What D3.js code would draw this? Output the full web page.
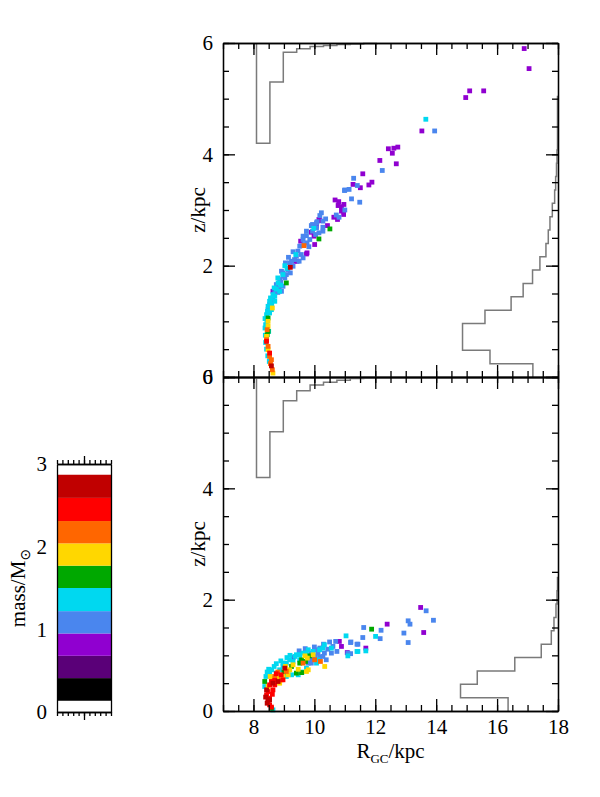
<!DOCTYPE html>
<html>
<head>
<meta charset="utf-8">
<script src="https://cdn.jsdelivr.net/npm/d3@7"></script>
<style>
body { margin: 0; background: #fff; }
text { font-family: "Liberation Serif", "DejaVu Serif", serif; fill: #000; }
</style>
</head>
<body>
<div id="chart"></div>
<script>
// colour bar: mass band edges (Msun), bottom to top, and their colours
var massEdges = [0.136, 0.41, 0.68, 0.95, 1.22, 1.50, 1.77, 2.04, 2.31, 2.59, 2.87];
var massColors = ["#000000", "#5a0078", "#9000d0", "#4a86ee", "#00d8f0",
                  "#00a800", "#ffd700", "#ff6600", "#ff0000", "#c00000"];

var xTicks = [8, 10, 12, 14, 16, 18];
var zTicks = [0, 2, 4, 6];
var massTicks = [0, 1, 2, 3];

// stars of the upper panel: [R_GC kpc, z kpc, mass Msun]
var topStars = [
  // purple
  [16.89,5.90,0.8],[17.05,5.54,0.8],[14.97,5.02,0.8],[15.10,5.14,0.8],[15.56,5.14,0.8],[13.53,4.42,0.8],
  [12.43,4.10,0.8],[12.61,4.11,0.8],[12.74,4.13,0.8],[12.56,4.02,0.8],[12.69,3.83,0.8],[12.15,3.89,0.8],
  [11.59,3.65,0.8],[11.27,3.46,0.8],[11.51,3.40,0.8],[11.79,3.45,0.8],[11.89,3.50,0.8],[10.68,3.18,0.8],
  [10.80,3.15,0.8],[10.78,3.08,0.8],[10.89,3.06,0.8],[10.97,3.10,0.8],[10.89,2.98,0.8],[10.96,2.92,0.8],
  [10.64,2.87,0.8],[10.76,2.83,0.8],[10.15,2.83,0.8],[10.07,2.71,0.8],[10.43,2.72,0.8],[10.01,2.38,0.8],
  [9.74,2.21,0.8],[9.55,2.44,0.8],[10.18,2.81,0.8],[9.90,2.60,0.8],[9.99,2.53,0.8],[9.76,2.23,0.8],
  [9.35,2.08,0.8],[9.43,2.08,0.8],[8.64,1.54,0.8],
  // blue
  [13.95,4.42,1.1],[12.23,3.71,1.1],[11.29,3.57,1.1],[11.41,3.44,1.1],[11.00,3.36,1.1],[11.14,3.37,1.1],
  [11.22,3.20,1.1],[11.49,3.14,1.1],[11.00,3.00,1.1],[10.72,2.91,1.1],[10.81,2.87,1.1],[10.23,2.95,1.1],
  [10.18,2.90,1.1],[10.99,3.35,1.1],[10.37,2.84,1.1],[10.28,2.80,1.1],[10.09,2.79,1.1],[9.94,2.74,1.1],
  [10.28,2.62,1.1],[10.15,2.59,1.1],[10.04,2.56,1.1],[9.94,2.62,1.1],[10.07,2.68,1.1],[10.01,2.71,1.1],
  [9.74,2.54,1.1],[9.85,2.47,1.1],[9.76,2.41,1.1],[9.63,2.47,1.1],[9.66,2.38,1.1],[9.82,2.34,1.1],
  [9.52,2.35,1.1],[9.46,2.26,1.1],[9.57,2.20,1.1],[9.41,2.17,1.1],[9.63,2.14,1.1],[9.50,2.08,1.1],
  [9.35,2.11,1.1],[9.19,2.05,1.1],[9.30,1.99,1.1],[9.13,1.93,1.1],[9.21,1.87,1.1],[9.08,1.84,1.1],
  [8.97,1.81,1.1],[8.92,1.90,1.1],[10.07,2.77,1.1],[9.90,2.72,1.1],[9.74,2.62,1.1],[9.63,2.53,1.1],
  [10.28,2.69,1.1],[9.25,2.08,1.1],[8.97,1.87,1.1],[9.03,1.78,1.1],[8.86,1.75,1.1],[8.75,1.66,1.1],
  [8.84,1.60,1.1],[8.97,1.63,1.1],[8.92,1.54,1.1],[8.70,1.51,1.1],[8.64,1.42,1.1],[8.59,1.36,1.1],
  [8.53,1.30,1.1],[8.48,1.21,1.1],[9.05,2.05,1.1],[8.90,1.70,1.1],[8.80,1.52,1.1],[9.30,2.25,1.1],
  [9.15,2.15,1.1],
  // cyan
  [13.66,4.63,1.35],[9.98,2.67,1.35],[9.39,2.20,1.35],[9.03,2.00,1.35],[8.97,1.84,1.35],[8.81,1.69,1.35],
  [8.75,1.58,1.35],[8.64,1.48,1.35],[8.53,1.36,1.35],[8.48,1.27,1.35],[8.53,1.15,1.35],[8.43,1.12,1.35],
  [8.40,0.94,1.35],[8.59,1.21,1.35],[8.70,1.36,1.35],[8.86,1.54,1.35],[8.38,1.05,1.35],[8.38,0.88,1.35],
  [8.39,0.75,1.35],[8.40,0.62,1.35],[8.43,0.50,1.35],[8.47,0.38,1.35],[8.52,0.28,1.35],[8.46,1.18,1.35],
  [8.44,1.00,1.35],[8.56,1.42,1.35],[8.68,1.60,1.35],[8.80,1.78,1.35],[9.10,1.95,1.35],[8.50,0.82,1.35],
  [8.60,1.30,1.35],[8.70,1.45,1.35],[8.90,1.65,1.35],
  // green
  [10.51,2.66,1.6],[10.15,2.48,1.6],[9.08,1.69,1.6],[8.48,1.06,1.6],[8.48,0.82,1.6],[8.45,0.76,1.6],
  // yellow
  [8.62,1.24,1.9],[8.48,1.00,1.9],[8.48,0.91,1.9],[8.43,0.73,1.9],[8.48,0.49,1.9],[8.64,0.07,1.9],
  // orange
  [9.66,2.36,2.2],[8.45,0.85,2.2],[8.43,0.67,2.2],[8.48,0.55,2.2],[8.53,0.37,2.2],[8.59,0.31,2.2],
  [8.62,0.13,2.2],[8.56,0.24,2.2],
  // red
  [8.43,0.64,2.45],[8.53,0.43,2.45],
  // dark red
  [9.21,1.97,2.7],[8.59,0.20,2.7]
];

// stars of the lower panel
var bottomStars = [
  // purple
  [13.49,1.86,0.8],[13.59,1.41,0.8],[12.39,1.56,0.8],[10.82,1.25,0.8],[10.89,1.16,0.8],[11.69,1.13,0.8],
  [11.08,1.05,0.8],[9.30,0.96,0.8],
  // blue
  [13.67,1.80,1.1],[13.91,1.63,1.1],[13.08,1.62,1.1],[13.14,1.56,1.1],[12.94,1.40,1.1],[13.08,1.23,1.1],
  [12.19,1.45,1.1],[11.62,1.50,1.1],[12.16,1.30,1.1],[11.59,1.32,1.1],[11.43,1.20,1.1],[11.20,1.24,1.1],
  [11.10,1.04,1.1],[11.19,1.03,1.1],[11.19,1.23,1.1],[11.40,1.20,1.1],[10.70,1.25,1.1],[10.50,1.24,1.1],
  [10.61,1.16,1.1],[10.74,1.07,1.1],[10.44,1.11,1.1],[10.56,1.04,1.1],[10.33,1.04,1.1],[10.39,0.92,1.1],
  [10.18,1.13,1.1],[10.12,1.04,1.1],[10.17,0.97,1.1],[10.28,0.98,1.1],[10.07,1.10,1.1],[10.01,0.99,1.1],
  [9.90,1.04,1.1],[9.96,0.92,1.1],[9.85,0.93,1.1],[9.80,0.86,1.1],[9.90,0.86,1.1],[9.50,1.08,1.1],
  [9.70,1.12,1.1],[10.30,1.20,1.1],[10.00,1.15,1.1],
  // cyan
  [12.01,1.34,1.35],[11.04,1.35,1.35],[11.69,1.08,1.35],[11.43,1.07,1.35],[11.10,0.99,1.35],[11.40,1.07,1.35],
  [10.17,1.10,1.35],[9.96,1.07,1.35],[9.74,1.04,1.35],[9.52,1.01,1.35],[9.36,0.98,1.35],[9.19,0.92,1.35],
  [9.08,0.86,1.35],[8.97,0.80,1.35],[8.86,0.74,1.35],[8.75,0.68,1.35],[9.41,1.01,1.35],[9.63,1.04,1.35],
  [9.80,1.10,1.35],[10.28,1.13,1.35],[10.33,1.19,1.35],[10.56,1.13,1.35],[10.12,0.92,1.35],[10.07,0.86,1.35],
  [9.74,0.77,1.35],[9.47,0.65,1.35],[9.25,0.65,1.35],[9.08,0.62,1.35],[9.30,0.89,1.35],[9.52,0.92,1.35],
  [8.37,0.44,1.35],[8.41,0.62,1.35],[8.53,0.68,1.35],[8.97,0.86,1.35],[8.64,0.02,1.35],[8.60,0.74,1.35],
  [8.68,0.80,1.35],[9.10,0.96,1.35],[9.60,0.70,1.35],[8.50,0.75,1.35],[8.45,0.70,1.35],[8.75,0.85,1.35],
  [8.90,0.90,1.35],[9.20,1.00,1.35],
  // green
  [11.88,1.47,1.6],[9.85,0.99,1.6],[9.58,0.92,1.6],[9.52,0.86,1.6],[9.71,0.89,1.6],[9.41,0.68,1.6],
  [9.58,0.69,1.6],[8.37,0.53,1.6],[8.59,0.05,1.6],[9.25,0.80,1.6],[9.00,0.70,1.6],
  // yellow
  [10.34,0.80,1.9],[9.96,1.01,1.9],[9.69,0.99,1.9],[9.77,0.95,1.9],[9.30,0.83,1.9],[9.47,0.75,1.9],
  [9.74,0.71,1.9],[9.80,0.74,1.9],[8.64,0.59,1.9],[8.81,0.59,1.9],[8.86,0.50,1.9],[8.97,0.62,1.9],
  [9.14,0.65,1.9],[9.19,0.74,1.9],[8.48,0.44,1.9],[8.55,0.62,1.9],[9.05,0.80,1.9],
  // orange
  [10.20,0.89,2.2],[10.01,0.92,2.2],[9.63,0.86,2.2],[9.08,0.71,2.2],[8.91,0.56,2.2],[8.70,0.62,2.2],
  [8.80,0.70,2.2],
  // red
  [8.75,0.67,2.45],[8.91,0.65,2.45],[8.97,0.56,2.45],[8.59,0.53,2.45],[8.53,0.47,2.45],[8.70,0.47,2.45],
  [8.64,0.38,2.45],[8.48,0.35,2.45],[8.43,0.29,2.45],[8.53,0.23,2.45],[8.48,0.17,2.45],[8.53,0.11,2.45],
  [8.59,0.07,2.45],[8.62,0.30,2.45],[8.70,0.55,2.45],
  // dark red
  [9.03,0.77,2.7],[8.43,0.38,2.7],[8.48,0.20,2.7],[8.45,0.14,2.7],[8.53,0.20,2.7],[8.81,0.53,2.7],
  [8.64,0.50,2.7],[8.40,0.25,2.7]
];

// R histograms (hang from the top edge): first bin edge, bin width, height as fraction of panel height
var rHistStart = 8.10, rBinWidth = 0.44;
var topRHist = [0.300, 0.117, 0.028, 0.017, 0.0105, 0.0075, 0.0045, 0.003, 0.0015];
var bottomRHist = [0.301, 0.164, 0.071, 0.041, 0.024, 0.016, 0.010, 0.0045, 0.0015];

// z histograms (grow from the right edge): bins from z=0, length as fraction of panel width
var zBinWidth = 0.24;
var topZHist = [0.075, 0.203, 0.285, 0.285, 0.218, 0.140, 0.104, 0.076, 0.054, 0.036, 0.029,
                0.024, 0.017, 0.010, 0.007, 0.0045, 0.003, 0.0015, 0.0015, 0.0015, 0.0015];
var bottomZHist = [0.149, 0.291, 0.241, 0.129, 0.050, 0.020, 0.012, 0.006, 0.003, 0.0015];

var width = 600, height = 797;
var left = 223, right = 558;

var svg = d3.select("#chart").append("svg")
    .attr("width", width)
    .attr("height", height)
    .style("background", "#fff");

var x = d3.scaleLinear().domain([7, 18]).range([left, right]);
var color = d3.scaleThreshold().domain(massEdges.slice(1, -1)).range(massColors);
var wLen = d3.scaleLinear().domain([0, 1]).range([0, right - left]);

var panels = [
  {top: 43, bottom: 377, stars: topStars, rHist: topRHist, zHist: topZHist, xLabels: false},
  {top: 377, bottom: 711, stars: bottomStars, rHist: bottomRHist, zHist: bottomZHist, xLabels: true}
];

var histLine = d3.line()
    .x(function(d) { return d[0]; })
    .y(function(d) { return d[1]; });

panels.forEach(function(p) {
  var y = d3.scaleLinear().domain([0, 6]).range([p.bottom, p.top]);
  var hLen = d3.scaleLinear().domain([0, 1]).range([0, p.bottom - p.top]);
  var g = svg.append("g");

  // R histogram hanging from the top
  var rPts = [[x(rHistStart), p.top]];
  p.rHist.forEach(function(v, i) {
    rPts.push([x(rHistStart + i * rBinWidth), p.top + hLen(v)]);
    rPts.push([x(rHistStart + (i + 1) * rBinWidth), p.top + hLen(v)]);
  });
  rPts.push([x(rHistStart + p.rHist.length * rBinWidth), p.top]);

  // z histogram from the right edge
  var zPts = [];
  p.zHist.forEach(function(v, i) {
    zPts.push([right - wLen(v), y(i * zBinWidth)]);
    zPts.push([right - wLen(v), y((i + 1) * zBinWidth)]);
  });
  zPts.push([right, y(p.zHist.length * zBinWidth)]);

  g.selectAll("path.hist")
    .data([rPts, zPts])
    .enter().append("path")
      .attr("class", "hist")
      .attr("d", histLine)
      .attr("fill", "none")
      .attr("stroke", "#7a7a7a")
      .attr("stroke-width", 1.5);

  // stars
  var s = 4.8;
  g.selectAll("rect.star")
    .data(p.stars)
    .enter().append("rect")
      .attr("class", "star")
      .attr("x", function(d) { return x(d[0]) - s / 2; })
      .attr("y", function(d) { return y(d[1]) - s / 2; })
      .attr("width", s)
      .attr("height", s)
      .attr("fill", function(d) { return color(d[2]); });

  // frame with inward ticks, major and minor
  var minorX = d3.range(7, 18.01, 0.5), minorY = d3.range(0, 6.01, 0.5);
  var axes = [
    [d3.axisBottom(x).tickValues(minorX).tickSize(-6).tickFormat(""), p.bottom, 0],
    [d3.axisBottom(x).tickValues(xTicks).tickSize(-12).tickPadding(8)
        .tickFormat(p.xLabels ? d3.format("d") : ""), p.bottom, 0],
    [d3.axisTop(x).tickValues(minorX).tickSize(-6).tickFormat(""), p.top, 0],
    [d3.axisTop(x).tickValues(xTicks).tickSize(-12).tickFormat(""), p.top, 0],
    [d3.axisLeft(y).tickValues(minorY).tickSize(-6).tickFormat(""), 0, left],
    [d3.axisLeft(y).tickValues(zTicks).tickSize(-12).tickPadding(10).tickFormat(d3.format("d")), 0, left],
    [d3.axisRight(y).tickValues(minorY).tickSize(-6).tickFormat(""), 0, right],
    [d3.axisRight(y).tickValues(zTicks).tickSize(-12).tickFormat(""), 0, right]
  ];
  axes.forEach(function(a) {
    var ga = g.append("g")
        .attr("transform", "translate(" + a[2] + "," + a[1] + ")")
        .call(a[0].tickSizeOuter(0));
    ga.selectAll("path, line").attr("stroke", "#000").attr("stroke-width", 1.3);
    ga.selectAll("text").style("font-family", "Liberation Serif, serif").style("font-size", "21px").attr("fill", "#000");
  });

  svg.append("text")
      .attr("transform", "translate(205," + ((p.top + p.bottom) / 2) + ") rotate(-90)")
      .attr("text-anchor", "middle")
      .style("font-size", "21px")
      .text("z/kpc");
});

// x axis title
var xt = svg.append("text")
    .attr("x", (left + right) / 2)
    .attr("y", 758)
    .attr("text-anchor", "middle")
    .style("font-size", "21px");
xt.append("tspan").text("R");
xt.append("tspan").attr("dy", 5).style("font-size", "13px").text("GC");
xt.append("tspan").attr("dy", -5).text("/kpc");

// colour bar
var cb = d3.scaleLinear().domain([0, 3]).range([712, 464]);
var cbx = d3.scaleLinear().domain([0, 1]).range([57, 111]);
var gc = svg.append("g");

gc.selectAll("rect.band")
  .data(massColors)
  .enter().append("rect")
    .attr("class", "band")
    .attr("x", cbx(0))
    .attr("width", cbx(1) - cbx(0))
    .attr("y", function(d, i) { return cb(massEdges[i + 1]); })
    .attr("height", function(d, i) { return cb(massEdges[i]) - cb(massEdges[i + 1]); })
    .attr("fill", function(d) { return d; });

var cbAxes = [
  [d3.axisTop(cbx).tickValues(d3.range(0, 1.01, 0.1)).tickSize(-4).tickFormat(""), cb(0), 0],
  [d3.axisTop(cbx).tickValues([0.5]).tickSize(-8).tickFormat(""), cb(0), 0],
  [d3.axisBottom(cbx).tickValues(d3.range(0, 1.01, 0.1)).tickSize(-4).tickFormat(""), cb(3), 0],
  [d3.axisBottom(cbx).tickValues([0.5]).tickSize(-8).tickFormat(""), cb(3), 0],
  [d3.axisLeft(cb).tickValues(massTicks).tickSize(0).tickPadding(10).tickFormat(d3.format("d")), 0, cbx(0)],
  [d3.axisRight(cb).tickValues([]).tickSize(0), 0, cbx(1)]
];
cbAxes.forEach(function(a) {
  var ga = gc.append("g")
      .attr("transform", "translate(" + a[2] + "," + a[1] + ")")
      .call(a[0].tickSizeOuter(0));
  ga.selectAll("path, line").attr("stroke", "#000").attr("stroke-width", 1.3);
  ga.selectAll("text").style("font-family", "Liberation Serif, serif").style("font-size", "21px").attr("fill", "#000");
});

var mt = svg.append("text")
    .attr("transform", "translate(25," + cb(1.5) + ") rotate(-90)")
    .attr("text-anchor", "middle")
    .style("font-size", "21px");
mt.append("tspan").text("mass/M");
mt.append("tspan").attr("dy", 5).style("font-size", "14px").style("font-family", "DejaVu Sans").text("\u2299");
</script>
</body>
</html>
